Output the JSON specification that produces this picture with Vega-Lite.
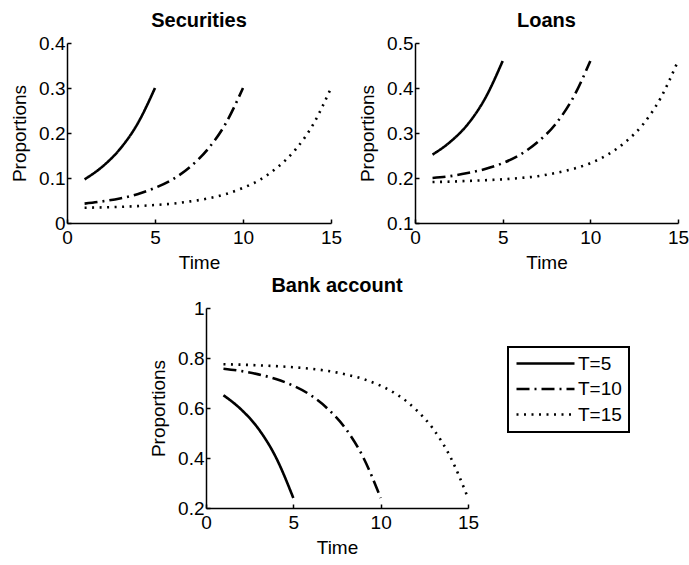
{
  "$schema": "https://vega.github.io/schema/vega-lite/v6.json",
  "padding": {"left": 10, "top": 11, "right": 0, "bottom": 0},
  "background": "white",
  "config": {
    "font": "Liberation Sans",
    "view": {"stroke": null},
    "axis": {
      "grid": false,
      "domainColor": "black",
      "domainWidth": 1.5,
      "tickColor": "black",
      "tickWidth": 1.5,
      "tickSize": -4,
      "labelColor": "black",
      "labelFont": "Liberation Sans",
      "labelFontSize": 19,
      "labelFlush": false,
      "labelOverlap": false,
      "titleColor": "black",
      "titleFont": "Liberation Sans",
      "titleFontSize": 19,
      "titleFontWeight": "normal"
    },
    "axisX": {"titlePadding": 6, "labelPadding": 9},
    "axisY": {"titlePadding": 9, "labelPadding": 6},
    "title": {"font": "Liberation Sans", "fontSize": 20, "fontWeight": "bold", "color": "black", "offset": 3, "anchor": "middle"}
  },
  "datasets": {
    "securities": [
      {"T": "T=5", "t": 1, "v": 0.097}, {"T": "T=5", "t": 2, "v": 0.125}, {"T": "T=5", "t": 3, "v": 0.164}, {"T": "T=5", "t": 4, "v": 0.220}, {"T": "T=5", "t": 5, "v": 0.300},
      {"T": "T=10", "t": 1, "v": 0.043}, {"T": "T=10", "t": 2, "v": 0.048}, {"T": "T=10", "t": 3, "v": 0.0545}, {"T": "T=10", "t": 4, "v": 0.064}, {"T": "T=10", "t": 5, "v": 0.078},
      {"T": "T=10", "t": 6, "v": 0.097}, {"T": "T=10", "t": 7, "v": 0.125}, {"T": "T=10", "t": 8, "v": 0.164}, {"T": "T=10", "t": 9, "v": 0.220}, {"T": "T=10", "t": 10, "v": 0.300},
      {"T": "T=15", "t": 1, "v": 0.0339}, {"T": "T=15", "t": 2, "v": 0.0347}, {"T": "T=15", "t": 3, "v": 0.0358}, {"T": "T=15", "t": 4, "v": 0.0375}, {"T": "T=15", "t": 5, "v": 0.040},
      {"T": "T=15", "t": 6, "v": 0.043}, {"T": "T=15", "t": 7, "v": 0.048}, {"T": "T=15", "t": 8, "v": 0.0545}, {"T": "T=15", "t": 9, "v": 0.064}, {"T": "T=15", "t": 10, "v": 0.078},
      {"T": "T=15", "t": 11, "v": 0.097}, {"T": "T=15", "t": 12, "v": 0.125}, {"T": "T=15", "t": 13, "v": 0.164}, {"T": "T=15", "t": 14, "v": 0.220}, {"T": "T=15", "t": 15, "v": 0.300}
    ],
    "loans": [
      {"T": "T=5", "t": 1, "v": 0.252}, {"T": "T=5", "t": 2, "v": 0.280}, {"T": "T=5", "t": 3, "v": 0.319}, {"T": "T=5", "t": 4, "v": 0.377}, {"T": "T=5", "t": 5, "v": 0.460},
      {"T": "T=10", "t": 1, "v": 0.200}, {"T": "T=10", "t": 2, "v": 0.204}, {"T": "T=10", "t": 3, "v": 0.211}, {"T": "T=10", "t": 4, "v": 0.220}, {"T": "T=10", "t": 5, "v": 0.233},
      {"T": "T=10", "t": 6, "v": 0.252}, {"T": "T=10", "t": 7, "v": 0.280}, {"T": "T=10", "t": 8, "v": 0.319}, {"T": "T=10", "t": 9, "v": 0.377}, {"T": "T=10", "t": 10, "v": 0.460},
      {"T": "T=15", "t": 1, "v": 0.191}, {"T": "T=15", "t": 2, "v": 0.192}, {"T": "T=15", "t": 3, "v": 0.1935}, {"T": "T=15", "t": 4, "v": 0.195}, {"T": "T=15", "t": 5, "v": 0.197},
      {"T": "T=15", "t": 6, "v": 0.200}, {"T": "T=15", "t": 7, "v": 0.204}, {"T": "T=15", "t": 8, "v": 0.211}, {"T": "T=15", "t": 9, "v": 0.220}, {"T": "T=15", "t": 10, "v": 0.233},
      {"T": "T=15", "t": 11, "v": 0.252}, {"T": "T=15", "t": 12, "v": 0.280}, {"T": "T=15", "t": 13, "v": 0.319}, {"T": "T=15", "t": 14, "v": 0.377}, {"T": "T=15", "t": 15, "v": 0.460}
    ],
    "bank": [
      {"T": "T=5", "t": 1, "v": 0.651}, {"T": "T=5", "t": 2, "v": 0.595}, {"T": "T=5", "t": 3, "v": 0.517}, {"T": "T=5", "t": 4, "v": 0.403}, {"T": "T=5", "t": 5, "v": 0.240},
      {"T": "T=10", "t": 1, "v": 0.757}, {"T": "T=10", "t": 2, "v": 0.748}, {"T": "T=10", "t": 3, "v": 0.7345}, {"T": "T=10", "t": 4, "v": 0.716}, {"T": "T=10", "t": 5, "v": 0.689},
      {"T": "T=10", "t": 6, "v": 0.651}, {"T": "T=10", "t": 7, "v": 0.595}, {"T": "T=10", "t": 8, "v": 0.517}, {"T": "T=10", "t": 9, "v": 0.403}, {"T": "T=10", "t": 10, "v": 0.240},
      {"T": "T=15", "t": 1, "v": 0.7751}, {"T": "T=15", "t": 2, "v": 0.7733}, {"T": "T=15", "t": 3, "v": 0.7707}, {"T": "T=15", "t": 4, "v": 0.7675}, {"T": "T=15", "t": 5, "v": 0.763},
      {"T": "T=15", "t": 6, "v": 0.757}, {"T": "T=15", "t": 7, "v": 0.748}, {"T": "T=15", "t": 8, "v": 0.7345}, {"T": "T=15", "t": 9, "v": 0.716}, {"T": "T=15", "t": 10, "v": 0.689},
      {"T": "T=15", "t": 11, "v": 0.651}, {"T": "T=15", "t": 12, "v": 0.595}, {"T": "T=15", "t": 13, "v": 0.517}, {"T": "T=15", "t": 14, "v": 0.403}, {"T": "T=15", "t": 15, "v": 0.240}
    ],
    "blank": [{"t": 0}]
  },
  "vconcat": [
    {
      "hconcat": [
        {
          "title": "Securities",
          "width": 264,
          "height": 180,
          "data": {"name": "securities"},
          "mark": {"type": "line", "color": "black", "strokeWidth": 2.6, "interpolate": "monotone"},
          "encoding": {
            "x": {"field": "t", "type": "quantitative", "scale": {"domain": [0, 15]}, "axis": {"values": [0, 5, 10, 15], "format": "d", "title": "Time"}},
            "y": {"field": "v", "type": "quantitative", "scale": {"domain": [0, 0.4]}, "axis": {"values": [0, 0.1, 0.2, 0.3, 0.4], "format": "~g", "title": "Proportions"}},
            "strokeDash": {"field": "T", "type": "nominal", "scale": {"domain": ["T=5", "T=10", "T=15"], "range": [[1, 0], [13, 5, 2, 5], [2, 5.5]]}, "legend": null}
          }
        },
        {
          "title": "Loans",
          "width": 263,
          "height": 180,
          "data": {"name": "loans"},
          "mark": {"type": "line", "color": "black", "strokeWidth": 2.6, "interpolate": "monotone"},
          "encoding": {
            "x": {"field": "t", "type": "quantitative", "scale": {"domain": [0, 15]}, "axis": {"values": [0, 5, 10, 15], "format": "d", "title": "Time"}},
            "y": {"field": "v", "type": "quantitative", "scale": {"domain": [0.1, 0.5]}, "axis": {"values": [0.1, 0.2, 0.3, 0.4, 0.5], "format": "~g", "title": "Proportions"}},
            "strokeDash": {"field": "T", "type": "nominal", "scale": {"domain": ["T=5", "T=10", "T=15"], "range": [[1, 0], [13, 5, 2, 5], [2, 5.5]]}, "legend": null}
          }
        }
      ],
      "spacing": 16
    },
    {
      "hconcat": [
        {
          "width": 82,
          "height": 200,
          "data": {"name": "blank"},
          "mark": {"type": "point", "opacity": 0},
          "encoding": {}
        },
        {
          "title": "Bank account",
          "width": 262,
          "height": 200,
          "data": {"name": "bank"},
          "mark": {"type": "line", "color": "black", "strokeWidth": 2.6, "interpolate": "monotone"},
          "encoding": {
            "x": {"field": "t", "type": "quantitative", "scale": {"domain": [0, 15]}, "axis": {"values": [0, 5, 10, 15], "format": "d", "title": "Time"}},
            "y": {"field": "v", "type": "quantitative", "scale": {"domain": [0.2, 1]}, "axis": {"values": [0.2, 0.4, 0.6, 0.8, 1], "format": "~g", "title": "Proportions"}},
            "strokeDash": {
              "field": "T", "type": "nominal",
              "scale": {"domain": ["T=5", "T=10", "T=15"], "range": [[1, 0], [13, 5, 2, 5], [2, 5.5]]},
              "legend": {
                "title": null,
                "orient": "none",
                "legendX": 302,
                "legendY": 39,
                "symbolType": "stroke",
                "symbolSize": 3364,
                "symbolStrokeWidth": 2.6,
                "symbolStrokeColor": "black",
                "labelFont": "Liberation Sans",
                "labelFontSize": 19,
                "labelColor": "black",
                "labelOffset": 2,
                "clipHeight": 19,
                "rowPadding": 5.5,
                "padding": 7,
                "strokeColor": "black",
                "fillColor": "white",
                "cornerRadius": 0,
                "encode": {"legend": {"update": {"strokeWidth": {"value": 2}}}}
              }
            }
          }
        }
      ],
      "spacing": 0,
      "resolve": {"scale": {"strokeDash": "independent"}, "legend": {"strokeDash": "independent"}}
    }
  ],
  "spacing": 4,
  "center": false,
  "resolve": {"scale": {"strokeDash": "independent"}, "legend": {"strokeDash": "independent"}}
}
